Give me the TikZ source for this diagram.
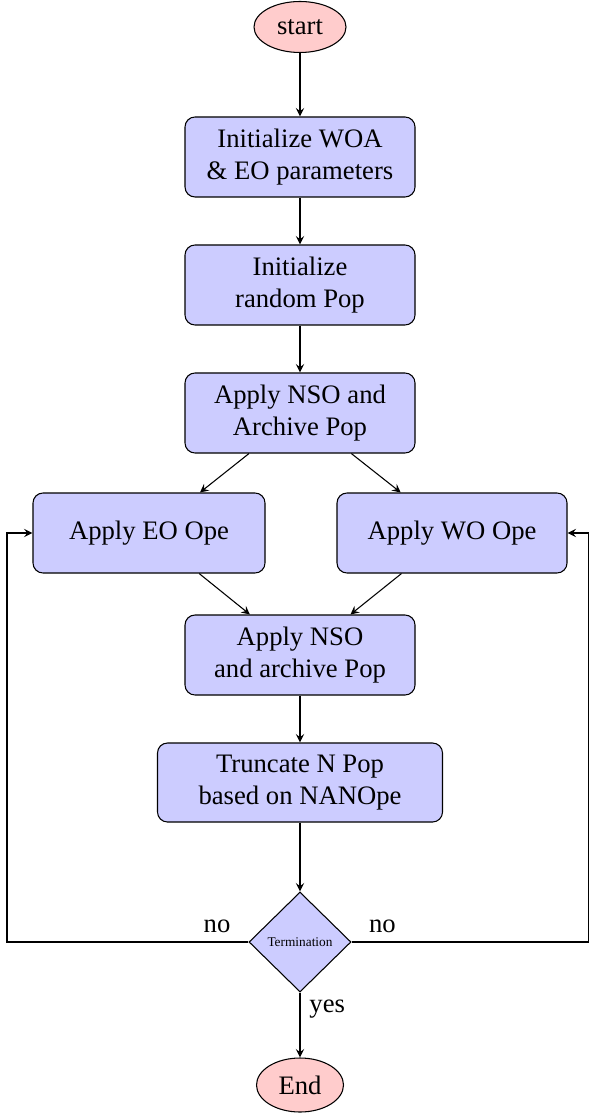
\documentclass[tikz,border=0pt]{standalone}
\usepackage{fontspec}
\setmainfont{Liberation Serif}
\usetikzlibrary{shapes.geometric,arrows}
\tikzset{
  term/.style={ellipse, draw=black, fill=red!20, inner sep=0pt},
  proc/.style={rectangle, rounded corners=3.75pt, draw=black, fill=blue!20, align=center, inner sep=0pt, minimum height={80*0.375pt}},
  decide/.style={diamond, draw=black, fill=blue!20, inner sep=0pt, minimum width={102*0.375pt}, minimum height={100*0.375pt}, font=\tiny},
  conn/.style={-stealth, line width=0.4pt},
  lbl/.style={inner sep=3.33pt}
}
\begin{document}
\begin{tikzpicture}[x=0.375pt,y=-0.375pt]
\useasboundingbox (0,0) rectangle (589,1115);
\node[term, minimum width={92*0.375pt}, minimum height={51*0.375pt}] (start) at (300,27) {start};
\node[proc, minimum width={230*0.375pt}] (init) at (300,157) {Initialize WOA\\ \& EO parameters};
\node[proc, minimum width={230*0.375pt}] (pop) at (300,285) {Initialize\\ random Pop};
\node[proc, minimum width={230*0.375pt}] (nso1) at (300,413) {Apply NSO and\\ Archive Pop};
\node[proc, minimum width={232*0.375pt}] (eo) at (149,533) {Apply EO Ope};
\node[proc, minimum width={230*0.375pt}] (wo) at (452,533) {Apply WO Ope};
\node[proc, minimum width={230*0.375pt}] (nso2) at (300,655) {Apply NSO\\ and archive Pop};
\node[proc, minimum width={285*0.375pt}, minimum height={79*0.375pt}] (trunc) at (300,782.5) {Truncate N Pop\\ based on NANOpe};
\node[decide] (term) at (300,942) {Termination};
\node[term, minimum width={87*0.375pt}, minimum height={54*0.375pt}] (end) at (300,1085) {End};
\coordinate (lft) at (7,942);
\coordinate (rgt) at (588.5,942);
\draw[conn] (start) -- (init);
\draw[conn] (init) -- (pop);
\draw[conn] (pop) -- (nso1);
\draw[conn] (nso1) -- (eo);
\draw[conn] (nso1) -- (wo);
\draw[conn] (eo) -- (nso2);
\draw[conn] (wo) -- (nso2);
\draw[conn] (nso2) -- (trunc);
\draw[conn] (trunc) -- (term);
\draw[conn] (term.west) -- node[lbl, pos=0.13, above] {no} (lft) |- (eo.west);
\draw[conn] (term.east) -- node[lbl, pos=0.13, above] {no} (rgt) |- (wo.east);
\draw[conn] (term.south) -- node[lbl, pos=0.25, right] {yes} (end);
\end{tikzpicture}
\end{document}
